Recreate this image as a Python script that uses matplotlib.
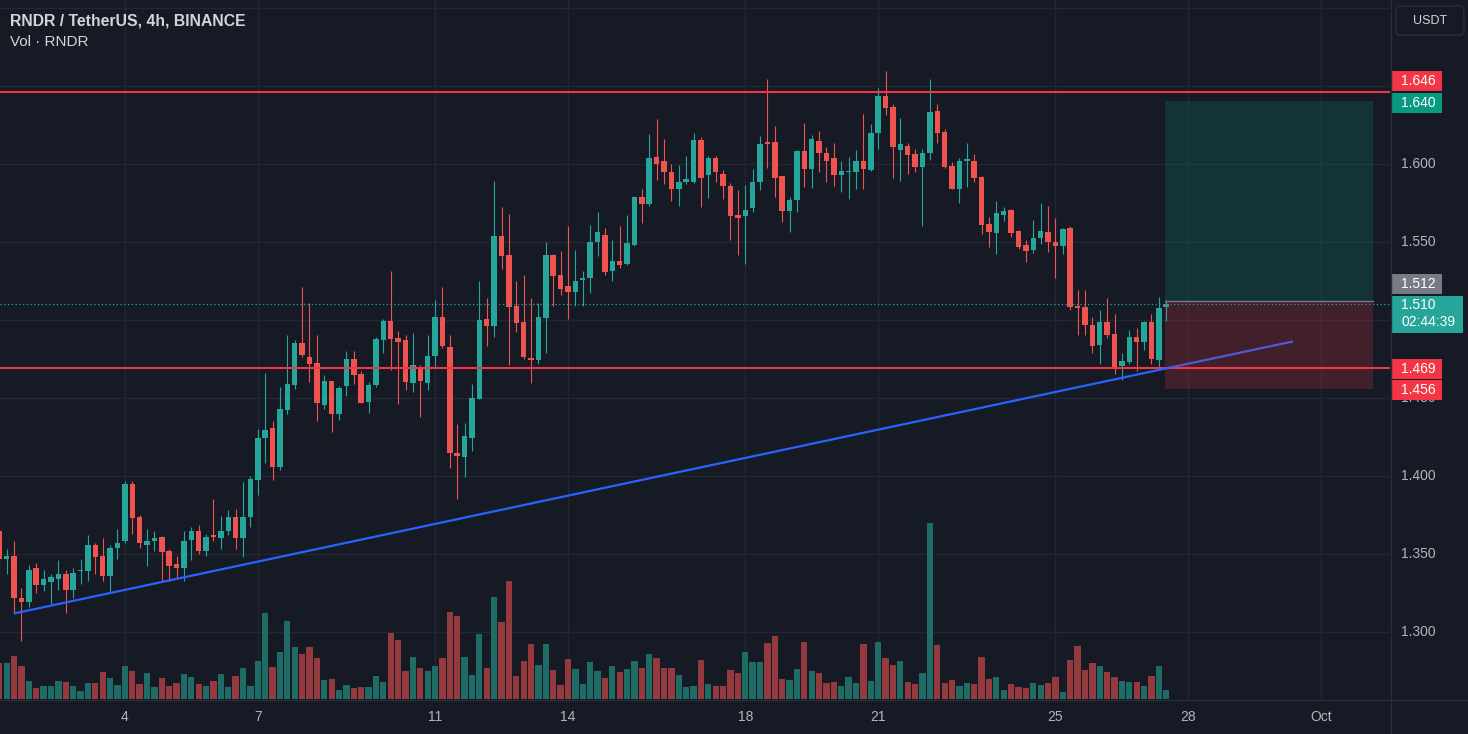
import matplotlib
matplotlib.use("Agg")
import matplotlib.pyplot as plt
from matplotlib.patches import Rectangle, FancyBboxPatch
from matplotlib.lines import Line2D
from datetime import datetime

# RNDR / USDT 4h candles, first candle opens 2023-09-01 04:00
opens = [
    1.365, 1.347, 1.349, 1.322, 1.319, 1.341, 1.330, 1.332, 1.334, 1.337,
    1.327, 1.339, 1.339, 1.356, 1.349, 1.336, 1.354, 1.358, 1.395, 1.374,
    1.356, 1.358, 1.361, 1.352, 1.3435, 1.341, 1.359, 1.365, 1.352, 1.362,
    1.3605, 1.365, 1.374, 1.3605, 1.374, 1.3975, 1.424, 1.431, 1.4055, 1.4425,
    1.458, 1.485, 1.4765, 1.4725, 1.4455, 1.4605, 1.4395, 1.4575, 1.475, 1.465,
    1.4475, 1.458, 1.487, 1.4995, 1.4885, 1.487, 1.4595, 1.4695, 1.4595, 1.477,
    1.502, 1.4825, 1.4145, 1.412, 1.4245, 1.4495, 1.5005, 1.496, 1.554, 1.5415,
    1.509, 1.4985, 1.4755, 1.4745, 1.5015, 1.5415, 1.529, 1.522, 1.518, 1.5255,
    1.527, 1.550, 1.5545, 1.5315, 1.538, 1.536, 1.548, 1.579, 1.574, 1.6045,
    1.602, 1.5945, 1.584, 1.588, 1.588, 1.615, 1.5925, 1.6035, 1.5935, 1.586,
    1.567, 1.5665, 1.5715, 1.588, 1.614, 1.614, 1.592, 1.570, 1.5765, 1.608,
    1.5965, 1.6145, 1.607, 1.6035, 1.593, 1.5945, 1.5945, 1.602, 1.596, 1.6195,
    1.6435, 1.6365, 1.609, 1.6115, 1.606, 1.598, 1.607, 1.634, 1.6205, 1.5985,
    1.584, 1.602, 1.602, 1.5915, 1.5615, 1.5555, 1.567, 1.5705, 1.557, 1.548,
    1.545, 1.5525, 1.556, 1.550, 1.5475, 1.559, 1.509, 1.508, 1.497, 1.484,
    1.4985, 1.491, 1.4705, 1.473, 1.489, 1.4855, 1.4985, 1.4745, 1.508,
]
highs = [
    1.368, 1.353, 1.358, 1.328, 1.343, 1.344, 1.340, 1.337, 1.346, 1.340,
    1.341, 1.347, 1.362, 1.357, 1.360, 1.356, 1.366, 1.397, 1.397, 1.375,
    1.366, 1.365, 1.3615, 1.353, 1.349, 1.365, 1.3675, 1.3685, 1.363, 1.385,
    1.3745, 1.378, 1.379, 1.396, 1.400, 1.430, 1.466, 1.435, 1.457, 1.490,
    1.487, 1.521, 1.511, 1.490, 1.4645, 1.461, 1.4575, 1.480, 1.480, 1.4675,
    1.460, 1.489, 1.5005, 1.5315, 1.493, 1.490, 1.4915, 1.471, 1.490, 1.513,
    1.521, 1.490, 1.433, 1.434, 1.459, 1.525, 1.514, 1.589, 1.572, 1.568,
    1.525, 1.529, 1.514, 1.511, 1.550, 1.542, 1.544, 1.560, 1.545, 1.531,
    1.561, 1.569, 1.559, 1.551, 1.560, 1.567, 1.5795, 1.584, 1.619, 1.6285,
    1.616, 1.600, 1.599, 1.605, 1.620, 1.617, 1.605, 1.605, 1.596, 1.5875,
    1.583, 1.5865, 1.5965, 1.618, 1.6545, 1.624, 1.592, 1.5785, 1.6085, 1.626,
    1.6185, 1.621, 1.611, 1.6135, 1.602, 1.6045, 1.609, 1.632, 1.6255, 1.6485,
    1.6595, 1.638, 1.629, 1.613, 1.6095, 1.6095, 1.654, 1.6385, 1.622, 1.601,
    1.604, 1.613, 1.6065, 1.592, 1.566, 1.576, 1.572, 1.571, 1.5575, 1.551,
    1.564, 1.575, 1.573, 1.565, 1.559, 1.560, 1.519, 1.519, 1.502, 1.506,
    1.514, 1.504, 1.479, 1.4935, 1.495, 1.499, 1.504, 1.5145, 1.513,
]
lows = [
    1.337, 1.337, 1.312, 1.294, 1.316, 1.325, 1.326, 1.318, 1.327, 1.312,
    1.322, 1.331, 1.333, 1.337, 1.333, 1.325, 1.347, 1.357, 1.363, 1.354,
    1.342, 1.352, 1.332, 1.333, 1.334, 1.333, 1.346, 1.350, 1.349, 1.358,
    1.3535, 1.362, 1.353, 1.348, 1.367, 1.388, 1.4085, 1.3975, 1.404, 1.4395,
    1.4555, 1.476, 1.460, 1.435, 1.443, 1.428, 1.436, 1.451, 1.459, 1.4465,
    1.4405, 1.457, 1.479, 1.468, 1.446, 1.455, 1.454, 1.438, 1.455, 1.469,
    1.482, 1.405, 1.385, 1.399, 1.416, 1.449, 1.483, 1.489, 1.5325, 1.471,
    1.492, 1.475, 1.4595, 1.4715, 1.479, 1.509, 1.516, 1.5005, 1.509, 1.509,
    1.5175, 1.541, 1.529, 1.525, 1.5335, 1.535, 1.5475, 1.562, 1.573, 1.5895,
    1.587, 1.576, 1.573, 1.587, 1.5875, 1.572, 1.578, 1.5885, 1.5775, 1.551,
    1.5415, 1.536, 1.569, 1.583, 1.597, 1.579, 1.5625, 1.556, 1.569, 1.585,
    1.5845, 1.595, 1.588, 1.586, 1.582, 1.5775, 1.584, 1.584, 1.5955, 1.6095,
    1.6315, 1.591, 1.589, 1.5935, 1.5945, 1.560, 1.6025, 1.6135, 1.5975, 1.584,
    1.575, 1.585, 1.588, 1.555, 1.5465, 1.5425, 1.5635, 1.553, 1.5455, 1.537,
    1.543, 1.5485, 1.5435, 1.527, 1.542, 1.506, 1.490, 1.490, 1.479, 1.472,
    1.4885, 1.465, 1.4615, 1.472, 1.467, 1.481, 1.472, 1.4685, 1.4995,
]
closes = [
    1.347, 1.349, 1.322, 1.319, 1.340, 1.330, 1.334, 1.335, 1.337, 1.327,
    1.338, 1.340, 1.356, 1.348, 1.336, 1.354, 1.357, 1.395, 1.373, 1.357,
    1.358, 1.360, 1.351, 1.3425, 1.341, 1.358, 1.365, 1.352, 1.361, 1.361,
    1.365, 1.374, 1.3605, 1.374, 1.398, 1.424, 1.4295, 1.4055, 1.443, 1.459,
    1.485, 1.4775, 1.4715, 1.447, 1.461, 1.4395, 1.4565, 1.475, 1.4645, 1.447,
    1.458, 1.488, 1.4995, 1.488, 1.4855, 1.460, 1.471, 1.4605, 1.477, 1.502,
    1.4835, 1.4145, 1.4125, 1.4255, 1.450, 1.500, 1.496, 1.554, 1.541, 1.5085,
    1.498, 1.476, 1.4745, 1.502, 1.5415, 1.528, 1.520, 1.518, 1.525, 1.527,
    1.550, 1.556, 1.5305, 1.5375, 1.535, 1.5495, 1.579, 1.5745, 1.6035, 1.600,
    1.5945, 1.584, 1.5885, 1.590, 1.615, 1.591, 1.6035, 1.595, 1.5855, 1.5665,
    1.5655, 1.5705, 1.5885, 1.6125, 1.6125, 1.591, 1.5695, 1.577, 1.608, 1.5965,
    1.616, 1.607, 1.6015, 1.593, 1.5955, 1.5955, 1.602, 1.5965, 1.620, 1.6435,
    1.636, 1.6105, 1.6125, 1.6055, 1.598, 1.607, 1.633, 1.6195, 1.598, 1.584,
    1.602, 1.6025, 1.591, 1.561, 1.5565, 1.5685, 1.570, 1.5555, 1.5465, 1.544,
    1.5525, 1.557, 1.550, 1.5475, 1.558, 1.5085, 1.5075, 1.4965, 1.4835, 1.4985,
    1.4905, 1.470, 1.4735, 1.489, 1.4855, 1.4985, 1.475, 1.5075, 1.510,
]
# volume (thousand RNDR)
volume = [
    108, 108, 130, 100, 55, 34, 40, 40, 55, 52,
    40, 25, 48, 48, 82, 62, 42, 100, 85, 46,
    79, 37, 62, 40, 49, 76, 65, 46, 40, 55,
    76, 37, 70, 94, 40, 115, 259, 97, 140, 235,
    157, 136, 157, 124, 58, 61, 28, 43, 33, 37,
    37, 70, 52, 197, 178, 85, 127, 94, 85, 100,
    124, 262, 250, 127, 73, 196, 94, 307, 232, 353,
    70, 115, 166, 103, 166, 88, 43, 121, 91, 46,
    112, 85, 64, 100, 82, 91, 115, 94, 136, 124,
    94, 94, 73, 37, 40, 118, 46, 40, 40, 88,
    79, 142, 112, 112, 169, 190, 61, 58, 91, 172,
    85, 79, 49, 52, 40, 65, 49, 166, 55, 172,
    124, 103, 115, 52, 46, 79, 527, 163, 49, 58,
    40, 49, 46, 127, 61, 67, 28, 46, 37, 34,
    49, 43, 49, 67, 22, 118, 160, 88, 109, 100,
    82, 67, 55, 52, 52, 40, 70, 100, 28,
]

resistance = 1.646
support = 1.469
target = 1.640
entry = 1.512
stop = 1.456
last_price = 1.510
countdown = "02:44:39"

# trend line anchors (candle index, price)
trend_x = [2.1, 175.0]
trend_y = [1.312, 1.486]

start = datetime(2023, 9, 1, 4)
tick_dates = [datetime(2023, 9, d) for d in (4, 7, 11, 14, 18, 21, 25, 28)] + [datetime(2023, 10, 1)]
tick_labels = ["4", "7", "11", "14", "18", "21", "25", "28", "Oct"]
price_levels = [1.30, 1.35, 1.40, 1.45, 1.50, 1.55, 1.60, 1.65, 1.70]
hidden_levels = (1.50, 1.65, 1.70)   # covered by the price tags

plt.rcParams['font.family'] = ['Liberation Sans', 'DejaVu Sans']

BG = '#161a25'
UP, DOWN = '#26a69a', '#ef5350'
W, H = 1468, 734
ymin, ymax = 1.2571, 1.7049
ppu = 699 / (ymax - ymin)   # pixels per price unit

fig = plt.figure(figsize=(W / 100, H / 100), dpi=100, facecolor=BG)
ax = fig.add_axes([0, 35 / H, 1390 / W, 699 / H], facecolor=BG)

x = list(range(len(closes)))
up = [c >= o for o, c in zip(opens, closes)]
col = [UP if u else DOWN for u in up]
vcol = ['#1f6b66' if u else '#943a3e' for u in up]

ax.vlines(x, lows, highs, colors=col, lw=0.8, zorder=3)
bottoms = [min(o, c) for o, c in zip(opens, closes)]
heights = [max(abs(c - o), 0.0008) for o, c in zip(opens, closes)]
ax.bar(x, heights, bottom=bottoms, width=0.74, color=col, lw=0, zorder=3)

# horizontal levels and trend line
ax.axhline(resistance, color='#f23645', lw=1.5, zorder=4)
ax.axhline(support, color='#f23645', lw=1.5, zorder=4)
ax.axhline(last_price, color=UP, lw=0.9, ls=(0, (1, 2)), zorder=4)
ax.plot(trend_x, trend_y, color='#2962ff', lw=1.6, zorder=4)

# long position box
px0 = len(closes) - 1 - 0.15
px1 = px0 + 28.2
ax.add_patch(Rectangle((px0, entry), px1 - px0, target - entry, facecolor='#089981', alpha=0.2, lw=0, zorder=5))
ax.add_patch(Rectangle((px0, stop), px1 - px0, entry - stop, facecolor='#f23645', alpha=0.2, lw=0, zorder=5))
ax.plot([px0, px1], [entry, entry], color='#787b86', lw=1, zorder=5)

ax.set_xlim(0.095, 188.3)
ax.set_ylim(ymin, ymax)
tick_pos = [(d - start).total_seconds() / 3600 / 4 for d in tick_dates]
ax.set_xticks(tick_pos)
ax.set_xticklabels(tick_labels)
ax.set_yticks(price_levels)
ax.grid(True, color='#232733', lw=1, zorder=0)
ax.tick_params(axis='both', length=0, colors='#b2b5be', labelsize=10)
ax.tick_params(axis='y', labelleft=False, labelright=False)
ax.tick_params(axis='x', pad=8)
for s in ax.spines.values():
    s.set_visible(False)

# volume overlay
vax = ax.twinx()
vax.bar(x, volume, width=0.85, color=vcol, lw=0)
vax.set_ylim(0, 699 * 3)
vax.axis('off')

# right price scale
rax = fig.add_axes([1391 / W, 35 / H, 77 / W, 699 / H])
rax.set_xlim(0, 77)
rax.set_ylim(ymin, ymax)
rax.axis('off')

for p in price_levels:
    if p in hidden_levels:
        continue
    rax.text(10, p, '%.3f' % p, color='#b2b5be', fontsize=10, va='center', ha='left', zorder=0.5)

labels = [
    (resistance, '#f23645', -10.5),
    (target, '#089981', 2),
    (entry, '#787b86', -17),
    (support, '#f23645', 1),
    (stop, '#f23645', 1.5),
]
for price, c, off in labels:
    yc = price - off / ppu
    rax.add_patch(Rectangle((0, yc - 10 / ppu), 51, 20 / ppu, facecolor=c, lw=0, zorder=1))
    rax.text(10, yc, '%.3f' % price, color='white', fontsize=10, va='center', ha='left', zorder=3)

yc = last_price - 10 / ppu
rax.add_patch(Rectangle((0, yc - 18.5 / ppu), 72, 37 / ppu, facecolor=UP, lw=0, zorder=1))
rax.text(10, yc + 9.5 / ppu, '%.3f' % last_price, color='white', fontsize=10, va='center', ha='left', zorder=3)
rax.text(10, yc - 8 / ppu, countdown, color='white', fontsize=10, va='center', ha='left', zorder=3)

rax.add_patch(FancyBboxPatch((5, ymax - 35 / ppu), 68, 29 / ppu,
                             boxstyle='round,pad=0,rounding_size=4', mutation_aspect=1 / ppu,
                             facecolor=BG, edgecolor='#2a2e39', lw=1, zorder=1))
rax.text(39, ymax - 20.5 / ppu, 'USDT', color='#d1d4dc', fontsize=9, ha='center', va='center', zorder=3)

# separators
fig.add_artist(Line2D([1390.5 / W] * 2, [0, 1], color='#2a2e39', lw=1))
fig.add_artist(Line2D([0, 1], [1 - 699.5 / H] * 2, color='#2a2e39', lw=1))

# legend text
fig.text(10 / W, 1 - 21 / H, 'RNDR / TetherUS, 4h, BINANCE', color='#d1d4dc',
         fontsize=11.3, fontweight='bold', va='center')
fig.text(10 / W, 1 - 41.5 / H, 'Vol · RNDR', color='#d1d4dc', fontsize=11, va='center')

fig.savefig('out.png', dpi=100, facecolor=BG)
